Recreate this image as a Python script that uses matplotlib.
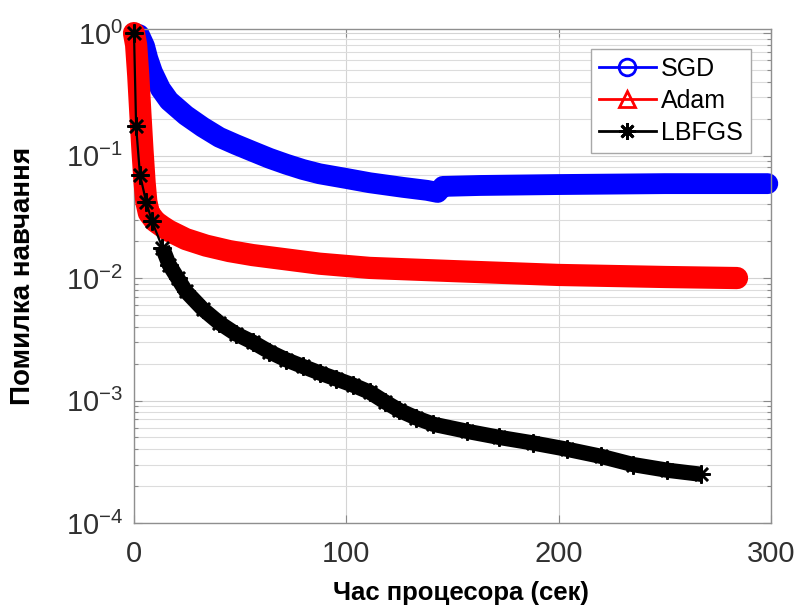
import matplotlib
matplotlib.use('Agg')
import matplotlib.pyplot as plt
from matplotlib.lines import Line2D
from matplotlib.ticker import LogLocator, NullFormatter

plt.rcParams['font.family'] = ['Liberation Sans', 'DejaVu Sans']
plt.rcParams['mathtext.fontset'] = 'custom'
plt.rcParams['mathtext.rm'] = 'Liberation Sans'
plt.rcParams['mathtext.it'] = 'Liberation Sans:italic'
plt.rcParams['mathtext.bf'] = 'Liberation Sans:bold'

# ---- data ----
series_names = ['SGD', 'Adam', 'LBFGS']

sgd_t = [0, 2.5, 5, 6.5, 8.7, 12.5, 16.5, 24.4, 32.3, 40.2, 48, 55.9, 63.8, 71.7, 79.5,
         87.4, 100, 111, 126.7, 138, 143, 145.5, 163, 200, 250, 298.5]
sgd_v = [1.0, 0.97, 0.78, 0.62, 0.48, 0.35, 0.28, 0.213, 0.171, 0.141, 0.123, 0.108,
         0.095, 0.085, 0.077, 0.071, 0.065, 0.060, 0.055, 0.052, 0.050, 0.056, 0.057,
         0.058, 0.059, 0.059]

adam_t = [0, 1, 2, 3, 4, 5, 5.8, 7, 10, 13.4, 16.5, 24.4, 33.9, 44.9, 55.9, 71.7, 87.4,
          111, 150, 200, 250, 284]
adam_v = [1.0, 0.8, 0.45, 0.22, 0.11, 0.06, 0.042, 0.034, 0.029, 0.0263, 0.0243, 0.0208,
          0.0184, 0.0166, 0.0154, 0.0142, 0.0131, 0.0121, 0.0114, 0.0106, 0.0102, 0.0100]

lbfgs_t = [0, 1.0, 2.8, 5.7, 8.5, 13.4, 16.5, 20.5, 24.4, 32.3, 40.2, 48, 55.9, 63.8,
           71.7, 79.5, 87.4, 95.3, 103, 111, 118, 125, 133, 141, 157, 172, 188, 204,
           220, 235, 251, 267]
lbfgs_v = [1.0, 0.173, 0.070, 0.042, 0.029, 0.0177, 0.0129, 0.0100, 0.0078, 0.0056,
           0.0043, 0.0035, 0.0030, 0.0025, 0.00215, 0.0019, 0.00168, 0.00150, 0.00134,
           0.00117, 0.00098, 0.00083, 0.00072, 0.00064, 0.00056, 0.00050, 0.00045,
           0.00040, 0.00035, 0.00030, 0.00027, 0.00025]

x_ticks = [0, 100, 200, 300]
y_ticks = [1e-4, 1e-3, 1e-2, 1e-1, 1e0]

xlabel = 'Час процесора (сек)'
ylabel = 'Помилка навчання'

# ---- figure ----
fig = plt.figure(figsize=(7.98, 6.08), dpi=100)
ax = fig.add_axes([134 / 798, 1 - 523 / 608, (771 - 134) / 798, (523 - 29) / 608])
ax.set_yscale('log')
ax.set_xlim(0, 300)
ax.set_ylim(1e-4, 1.08)
ax.set_xticks(x_ticks)
ax.set_yticks(y_ticks)
ax.yaxis.set_minor_locator(LogLocator(base=10, subs=range(2, 10)))
ax.yaxis.set_minor_formatter(NullFormatter())

ax.grid(True, which='major', color='#d4d4d4', lw=0.8)
ax.grid(True, which='minor', axis='y', color='#dcdcdc', lw=0.8)
ax.set_axisbelow(True)

ax.tick_params(which='both', direction='in', top=True, right=True, colors='#8a8a8a',
               labelcolor='#303030')
ax.tick_params(which='major', length=6, width=0.8)
ax.tick_params(which='minor', length=3, width=0.8)
ax.tick_params(axis='x', labelsize=21, pad=12)
ax.tick_params(axis='y', labelsize=21, pad=8)
for s in ax.spines.values():
    s.set_color('#8f8f8f')
    s.set_linewidth(1.0)

# SGD band (dense circle markers -> thick band)
ax.plot(sgd_t, sgd_v, color='#0000ff', lw=15, solid_capstyle='round',
        solid_joinstyle='round', clip_on=False, zorder=2)
# Adam band
ax.plot(adam_t, adam_v, color='#ff0000', lw=16, solid_capstyle='round',
        solid_joinstyle='round', clip_on=False, zorder=3)
# LBFGS thin line with asterisks + dense band
ax.plot(lbfgs_t, lbfgs_v, color='black', lw=1.6, marker=(8, 2, 0), ms=13, mew=1.8,
        clip_on=False, zorder=4)
ax.plot(lbfgs_t[5:], lbfgs_v[5:], color='black', lw=11, solid_capstyle='butt',
        solid_joinstyle='round', clip_on=False, zorder=4)

handles = [
    Line2D([], [], color='#0000ff', lw=2, marker='o', ms=12, mfc='none', mew=2),
    Line2D([], [], color='#ff0000', lw=2, marker='^', ms=12, mfc='none', mew=2),
    Line2D([], [], color='black', lw=2, marker=(8, 2, 0), ms=12, mew=2),
]
leg = ax.legend(handles, series_names, loc='upper right',
                bbox_to_anchor=((751 - 134) / 637, (523 - 49) / 494),
                borderaxespad=0, fontsize=18, frameon=True, fancybox=False,
                edgecolor='#a8a8a8', framealpha=1, handlelength=2.3,
                handletextpad=0.2, borderpad=0.32, labelspacing=0.32)
leg.get_frame().set_linewidth(1.0)
leg.set_zorder(10)

fig.text(23 / 798, 1 - 276 / 608, ylabel, rotation=90, ha='center', va='center',
         fontsize=20, fontweight='bold', color='black')
fig.text(461 / 798, 1 - 593 / 608, xlabel, ha='center', va='center',
         fontsize=18.5, fontweight='bold', color='black')

fig.savefig('out.png', dpi=100)
